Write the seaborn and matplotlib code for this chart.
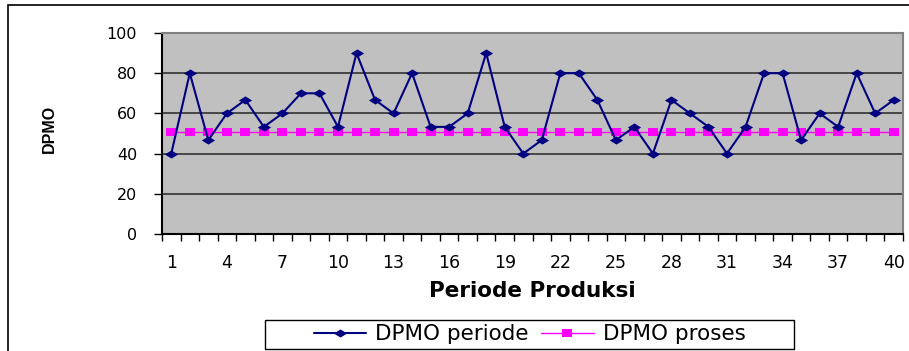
import matplotlib
matplotlib.use("Agg")
import matplotlib.pyplot as plt
import seaborn as sns
import pandas as pd
import numpy as np
from matplotlib.patches import Rectangle
from matplotlib.path import Path
from matplotlib.ticker import FixedLocator

periods = list(range(1, 41))
dpmo_periode = [40, 80, 46.7, 60, 66.7, 53.3, 60, 70, 70, 53.3,
                90, 66.7, 60, 80, 53.3, 53.3, 60, 90, 53.3, 40,
                46.7, 80, 80, 66.7, 46.7, 53.3, 40, 66.7, 60, 53.3,
                40, 53.3, 80, 80, 46.7, 60, 53.3, 80, 60, 66.7]
dpmo_proses = [50.6] * 40
xtick_labels = [1, 4, 7, 10, 13, 16, 19, 22, 25, 28, 31, 34, 37, 40]
yticks = [0, 20, 40, 60, 80, 100]

sns.set_theme(style="white")
plt.rcParams['font.family'] = ['DejaVu Sans']
for k in ['text.color', 'axes.labelcolor', 'xtick.color', 'ytick.color']:
    plt.rcParams[k] = 'black'

W, H = 909, 351
fig = plt.figure(figsize=(W / 100, H / 100), dpi=100)
ax = fig.add_axes([162 / W, (H - 234) / H, (903 - 162) / W, (234 - 33) / H])
ax.set_facecolor('#C0C0C0')

df = pd.DataFrame({'Periode': periods, 'DPMO periode': dpmo_periode, 'DPMO proses': dpmo_proses})

diamond = Path([(-1, 0), (0, 0.62), (1, 0), (0, -0.62), (-1, 0)],
               [Path.MOVETO, Path.LINETO, Path.LINETO, Path.LINETO, Path.CLOSEPOLY])
rect = Path([(-1, -0.7), (1, -0.7), (1, 0.7), (-1, 0.7), (-1, -0.7)],
            [Path.MOVETO, Path.LINETO, Path.LINETO, Path.LINETO, Path.CLOSEPOLY])

for y in yticks[1:-1]:
    ax.axhline(y, color='#262626', lw=1.1, zorder=1)

sns.lineplot(data=df, x='Periode', y='DPMO proses', ax=ax, color='#FF00FF', lw=1.0,
             marker=rect, markersize=7.5, markeredgewidth=0, label='DPMO proses', zorder=3)
sns.lineplot(data=df, x='Periode', y='DPMO periode', ax=ax, color='#000080', lw=1.5,
             marker=diamond, markersize=9.5, markeredgewidth=0, label='DPMO periode', zorder=4)

ax.set_xlim(0.5, 40.5)
ax.set_ylim(0, 100)
ax.set_xticks(xtick_labels)
ax.set_xticklabels([str(v) for v in xtick_labels], fontsize=12.5)
ax.xaxis.set_minor_locator(FixedLocator(np.arange(0.5, 41, 1)))
ax.set_yticks(yticks)
ax.set_yticklabels([str(v) for v in yticks], fontsize=11.5)
ax.tick_params(axis='x', which='major', length=0, pad=14.5, colors='black')
ax.tick_params(axis='x', which='minor', length=5, width=1, direction='out', bottom=True, color='black')
ax.tick_params(axis='y', which='major', length=6, width=1, direction='out', left=True, pad=12, color='black')

for s in ['left', 'bottom']:
    ax.spines[s].set_color('black')
    ax.spines[s].set_linewidth(1.5)
for s in ['top', 'right']:
    ax.spines[s].set_color('#808080')
    ax.spines[s].set_linewidth(1.5)

ax.set_xlabel('Periode Produksi', fontsize=15.5, fontweight='bold', color='black')
ax.xaxis.set_label_coords(0.5, (234 - 281) / 201)
ax.set_ylabel('DPMO', fontsize=11.5, fontweight='bold', color='black',
              family=['Liberation Sans Narrow', 'DejaVu Sans Condensed', 'Liberation Sans'])
ax.yaxis.set_label_coords((57 - 162) / 741, (234 - 128.5) / 201)

handles, labels = ax.get_legend_handles_labels()
order = [1, 0]
leg = ax.legend([handles[i] for i in order], [labels[i] for i in order],
                loc='center', bbox_to_anchor=(529.5 / W, (H - 334.5) / H), bbox_transform=fig.transFigure,
                ncol=2, fontsize=15.5, frameon=False,
                handlelength=2.45, handletextpad=0.42, columnspacing=0.56, borderpad=0.1)
for t in leg.get_texts():
    t.set_color('black')

# legend frame
fig.patches.append(Rectangle((265 / W, (H - 349) / H), (794 - 265) / W, 29 / H,
                             transform=fig.transFigure, fill=False, edgecolor='black', lw=1.0))
# outer chart border
fig.patches.append(Rectangle((8 / W, -0.05), 1.2, (H - 5) / H + 0.05, transform=fig.transFigure,
                             fill=False, edgecolor='black', lw=1.2))

fig.savefig('out.png', dpi=100)
